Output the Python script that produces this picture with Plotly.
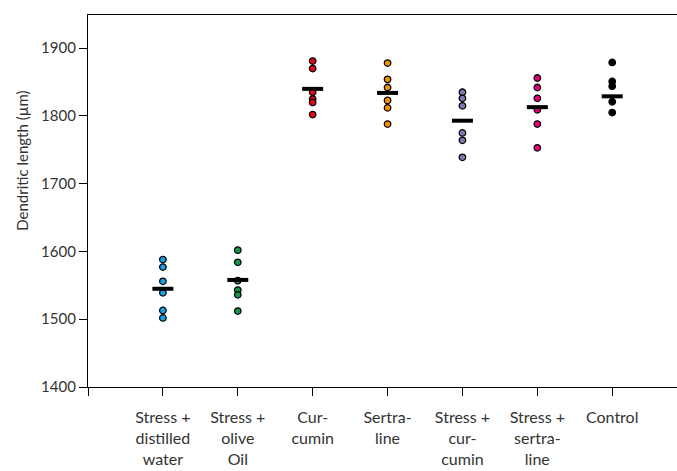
import plotly.graph_objects as go

# Group labels (line breaks as set on the axis)
categories = [
    "Stress +<br>distilled<br>water",
    "Stress +<br>olive<br>Oil",
    "Cur-<br>cumin",
    "Sertra-<br>line",
    "Stress +<br>cur-<br>cumin",
    "Stress +<br>sertra-<br>line",
    "Control",
]

# Dendritic length per animal (µm)
stress_distilled_water = [1588, 1577, 1556, 1539, 1513, 1502]
stress_olive_oil = [1602, 1584, 1557, 1543, 1536, 1512]
curcumin = [1881, 1870, 1835, 1825, 1820, 1802]
sertraline = [1878, 1854, 1842, 1823, 1812, 1788]
stress_curcumin = [1835, 1826, 1815, 1775, 1764, 1739]
stress_sertraline = [1856, 1842, 1826, 1809, 1788, 1753]
control = [1879, 1851, 1844, 1821, 1805]

# Group means (horizontal bars)
group_means = [1545, 1558, 1840, 1834, 1793, 1813, 1829]

y_ticks = [1400, 1500, 1600, 1700, 1800, 1900]

groups = [stress_distilled_water, stress_olive_oil, curcumin, sertraline,
          stress_curcumin, stress_sertraline, control]
colors = ["#1ba1e2", "#16944c", "#e3061a", "#f39200", "#7f78b6", "#e6007e", "#000000"]

fig = go.Figure()

for i, (vals, col) in enumerate(zip(groups, colors), start=1):
    fig.add_trace(go.Scatter(
        x=[i] * len(vals), y=vals, mode="markers",
        marker=dict(size=6.5, color=col, line=dict(color="#000000", width=1.3)),
        showlegend=False, hoverinfo="y",
    ))

fig.add_trace(go.Scatter(
    x=list(range(1, len(group_means) + 1)), y=group_means, mode="markers",
    marker=dict(symbol="line-ew", size=15, line=dict(color="#000000", width=4)),
    showlegend=False, hoverinfo="y",
))

family = "Lato, 'Open Sans', sans-serif"
x_font = dict(family=family, size=16, color="#333333")
y_font = dict(family=family, size=15, color="#333333")

fig.update_layout(
    width=677, height=471,
    margin=dict(l=88, r=0, t=15, b=84),
    paper_bgcolor="white", plot_bgcolor="white",
    font=y_font,
    xaxis=dict(
        range=[0, 7.865],
        tickmode="array",
        tickvals=list(range(0, len(categories) + 1)),
        ticktext=[""] + categories,
        showgrid=False, zeroline=False,
        showline=True, linecolor="#000000", linewidth=1.3, mirror=True,
        ticks="outside", ticklen=8, tickwidth=1.3, tickcolor="#000000",
        tickfont=x_font, ticklabelstandoff=8,
    ),
    yaxis=dict(
        range=[1400, 1949],
        tickmode="array", tickvals=y_ticks,
        showgrid=False, zeroline=False,
        showline=True, linecolor="#000000", linewidth=1.3,
        ticks="outside", ticklen=8, tickwidth=1.3, tickcolor="#000000",
        tickfont=y_font,
    ),
    annotations=[dict(
        text="Dendritic length (µm)", textangle=-90,
        xref="paper", yref="paper", x=-0.111, y=0.607,
        xanchor="center", yanchor="middle", showarrow=False,
        font=y_font,
    )],
)

fig.write_html("out.html")
